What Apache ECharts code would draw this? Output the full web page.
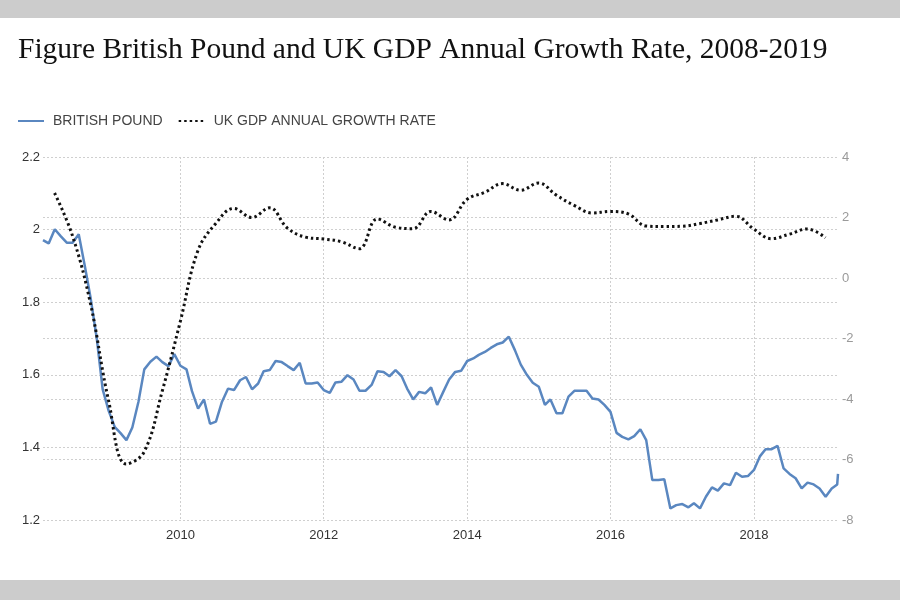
<!DOCTYPE html>
<html>
<head>
<meta charset="utf-8">
<script src="https://cdn.jsdelivr.net/npm/echarts@6/dist/echarts.min.js"></script>
<style>
  html, body { margin: 0; padding: 0; background: #ffffff; }
  #chart { width: 900px; height: 600px; }
</style>
</head>
<body>
<div id="chart"></div>
<script>
// ---------- DATA ----------
const titleText = 'Figure British Pound and UK GDP Annual Growth Rate, 2008-2019';
const seriesNames = ['BRITISH POUND', 'UK GDP ANNUAL GROWTH RATE'];

// British Pound (USD per GBP), monthly from Feb 2008 to Mar 2019
const poundStartYear = 2008;
const poundStartMonth = 2; // February
const poundValues = [
  // 2008 (Feb-Dec)
  1.971, 1.962, 2.001, 1.982, 1.964, 1.964, 1.987, 1.900, 1.810, 1.700, 1.560,
  // 2009
  1.500, 1.456, 1.440, 1.420, 1.455, 1.525, 1.615, 1.636, 1.650, 1.635, 1.624, 1.657,
  // 2010
  1.625, 1.615, 1.555, 1.507, 1.532, 1.465, 1.471, 1.526, 1.562, 1.558, 1.585, 1.594,
  // 2011
  1.560, 1.576, 1.610, 1.613, 1.638, 1.635, 1.624, 1.613, 1.633, 1.576, 1.576, 1.579,
  // 2012
  1.558, 1.550, 1.579, 1.581, 1.599, 1.587, 1.556, 1.556, 1.572, 1.610, 1.608, 1.596,
  // 2013
  1.613, 1.596, 1.562, 1.532, 1.553, 1.549, 1.565, 1.517, 1.553, 1.587, 1.608, 1.611,
  // 2014
  1.638, 1.645, 1.655, 1.663, 1.674, 1.684, 1.689, 1.705, 1.668, 1.628, 1.600, 1.578,
  // 2015
  1.567, 1.517, 1.532, 1.494, 1.494, 1.540, 1.556, 1.556, 1.556, 1.535, 1.532, 1.517,
  // 2016
  1.498, 1.440, 1.429, 1.422, 1.431, 1.450, 1.420, 1.310, 1.310, 1.312, 1.232, 1.241,
  // 2017
  1.244, 1.235, 1.246, 1.232, 1.264, 1.290, 1.281, 1.301, 1.296, 1.330, 1.319, 1.321,
  // 2018
  1.338, 1.376, 1.395, 1.395, 1.404, 1.342, 1.327, 1.315, 1.287, 1.303, 1.298, 1.287,
  // 2019 (Jan-Mar)
  1.264, 1.287, 1.298
];
// latest live quote appended at the end of the pound series
const poundLastDate = '2019-03-05';
const poundLastValue = 1.327;

// UK GDP annual growth rate (%), quarterly Q1 2008 - Q4 2018
const gdpStartYear = 2008;
const gdpValues = [
  2.81, 1.40, -0.85, -4.05,   // 2008
  -6.15, -5.75, -3.75, -1.45, // 2009
  0.90, 1.80, 2.30, 2.00,     // 2010
  2.32, 1.65, 1.35, 1.29,     // 2011
  1.20, 0.97, 1.95, 1.68,     // 2012
  1.63, 2.20, 1.92, 2.60,     // 2013
  2.83, 3.12, 2.90, 3.14,     // 2014
  2.74, 2.40, 2.15, 2.20,     // 2015
  2.12, 1.72, 1.70, 1.71,     // 2016
  1.80, 1.92, 2.04, 1.62,     // 2017
  1.30, 1.45, 1.62, 1.33      // 2018
];

// Axes
const leftAxis = { min: 1.2, max: 2.2, interval: 0.2 };
const rightAxis = { min: -8, max: 4, interval: 2 };
const xRange = { min: '2008-02-01', max: '2019-03-05' };

// ---------- BUILD ----------
function pad(n) { return (n < 10 ? '0' : '') + n; }
const poundData = poundValues.map(function (v, i) {
  const m0 = poundStartMonth - 1 + i;
  const y = poundStartYear + Math.floor(m0 / 12);
  const m = (m0 % 12) + 1;
  return [y + '-' + pad(m) + '-01', v];
});
poundData.push([poundLastDate, poundLastValue]);

const quarterEnds = ['03-31', '06-30', '09-30', '12-31'];
const gdpData = gdpValues.map(function (v, i) {
  const y = gdpStartYear + Math.floor(i / 4);
  return [y + '-' + quarterEnds[i % 4], v];
});

const TWO_YEARS = 2 * 365.25 * 24 * 3600 * 1000;
const gridLine = { color: '#cfcfcf', type: [2, 2], width: 1 };

const chart = echarts.init(document.getElementById('chart'), null, { renderer: 'canvas' });
chart.setOption({
  animation: false,
  backgroundColor: '#ffffff',
  graphic: [
    { type: 'rect', left: 0, top: 0, shape: { width: 900, height: 18 }, style: { fill: '#cccccc' }, silent: true },
    { type: 'rect', left: 0, top: 580, shape: { width: 900, height: 20 }, style: { fill: '#cccccc' }, silent: true }
  ],
  title: {
    text: titleText,
    left: 13,
    top: 30,
    textStyle: {
      fontFamily: 'Liberation Serif',
      fontSize: 29.5,
      fontWeight: 'normal',
      color: '#111111'
    }
  },
  legend: {
    left: 12,
    top: 109,
    itemWidth: 26,
    itemHeight: 14,
    itemGap: 15,
    itemStyle: { opacity: 0 },
    textStyle: {
      fontFamily: 'Liberation Sans',
      fontSize: 14,
      color: '#444444',
      padding: [0, 0, 0, 4]
    },
    data: seriesNames
  },
  grid: {
    left: 43,
    right: 62,
    top: 157,
    bottom: 80
  },
  xAxis: {
    type: 'time',
    min: xRange.min,
    max: xRange.max,
    splitNumber: 5,
    minInterval: TWO_YEARS,
    maxInterval: TWO_YEARS,
    axisLine: { show: false },
    axisTick: { show: false },
    axisLabel: {
      formatter: '{yyyy}',
      fontFamily: 'Liberation Sans',
      fontSize: 13,
      color: '#333333',
      margin: 9,
      showMinLabel: false,
      showMaxLabel: false
    },
    splitLine: {
      show: true,
      showMinLine: false,
      showMaxLine: false,
      lineStyle: gridLine
    }
  },
  yAxis: [
    {
      type: 'value',
      position: 'left',
      min: leftAxis.min,
      max: leftAxis.max,
      interval: leftAxis.interval,
      axisLine: { show: false },
      axisTick: { show: false },
      axisLabel: {
        fontFamily: 'Liberation Sans',
        fontSize: 13,
        color: '#333333',
        margin: 3
      },
      splitLine: { show: true, lineStyle: gridLine }
    },
    {
      type: 'value',
      position: 'right',
      min: rightAxis.min,
      max: rightAxis.max,
      interval: rightAxis.interval,
      axisLine: { show: false },
      axisTick: { show: false },
      axisLabel: {
        fontFamily: 'Liberation Sans',
        fontSize: 13,
        color: '#9a9a9a',
        margin: 4
      },
      splitLine: { show: true, lineStyle: gridLine }
    }
  ],
  series: [
    {
      name: seriesNames[0],
      type: 'line',
      yAxisIndex: 0,
      data: poundData,
      symbol: 'none',
      smooth: false,
      lineStyle: { color: '#5a87c0', width: 2.5 },
      itemStyle: { color: '#5a87c0' },
      z: 2
    },
    {
      name: seriesNames[1],
      type: 'line',
      yAxisIndex: 1,
      data: gdpData,
      symbol: 'none',
      smooth: 0.4,
      lineStyle: { color: '#111111', width: 3, type: [2.5, 3] },
      itemStyle: { color: '#111111' },
      z: 3
    }
  ]
});
</script>
</body>
</html>
